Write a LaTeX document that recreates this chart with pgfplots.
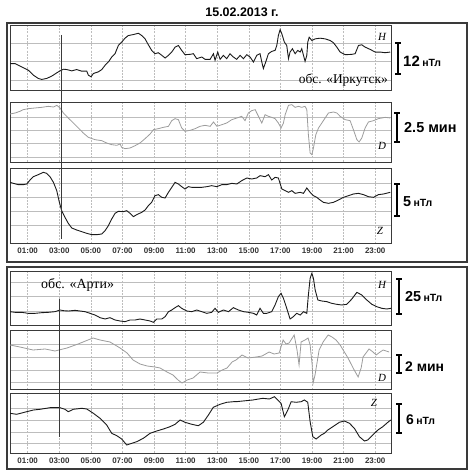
\documentclass[border=0pt]{standalone}
\usepackage{fontspec}
\setmainfont{Liberation Sans}
\newfontfamily\obsfont{Liberation Serif}
\usepackage{pgfplots}
\usepackage{pgfplotstable}
\pgfplotsset{compat=1.18}

\definecolor{framegray}{HTML}{3A3A3A}
\definecolor{gridgray}{HTML}{BDBDBD}
\definecolor{dgray}{HTML}{9C9C9C}
\definecolor{curveblack}{HTML}{1A1A1A}

% Irkutsk: H component (time in hours, relative level; larger = lower on the panel)
\pgfplotstableread{
t v
-0.12 125
0.20 125
0.62 135
1.04 145
1.36 160
1.67 170
1.89 173
2.20 170
2.52 163
2.84 153
3.05 147
3.26 142
3.47 143
3.79 147
4.10 143
4.42 148
4.74 148
4.84 160
5.01 165
5.16 155
5.47 150
5.69 143
5.90 130
6.11 120
6.32 105
6.53 95
6.74 70
6.95 60
7.16 48
7.37 40
7.69 37
8.01 33
8.22 40
8.43 50
8.64 68
8.85 85
9.06 95
9.27 92
9.49 100
9.70 108
9.91 100
10.12 90
10.33 75
10.54 70
10.75 85
10.96 98
11.28 97
11.49 95
11.70 110
12.02 105
12.23 112
12.55 112
12.76 95
12.86 115
13.03 90
13.18 112
13.39 100
13.60 110
13.81 95
14.02 105
14.23 112
14.45 100
14.66 110
14.87 98
15.08 105
15.29 120
15.50 100
15.71 95
15.82 120
15.92 140
16.07 120
16.24 95
16.45 88
16.66 85
16.77 70
16.87 40
16.98 22
17.09 35
17.25 60
17.40 70
17.51 110
17.61 90
17.76 80
17.93 95
18.10 85
18.25 90
18.35 80
18.46 100
18.56 118
18.67 100
18.73 60
18.82 45
18.99 55
19.20 50
19.51 48
19.83 50
20.15 55
20.36 62
20.57 75
20.78 90
21.10 98
21.52 97
21.73 95
21.94 70
22.15 68
22.36 75
22.68 82
23.00 90
23.31 90
23.63 92
23.95 90
}\irkH

% Irkutsk: D component
\pgfplotstableread{
t v
-0.12 48
0.20 45
0.51 40
0.72 35
1.04 32
1.46 30
1.89 28
2.31 25
2.63 27
2.84 22
3.05 30
3.26 45
3.57 60
3.89 75
4.21 90
4.52 105
4.84 118
5.26 125
5.69 128
6.00 135
6.32 140
6.64 142
6.85 138
6.95 148
7.16 152
7.48 150
7.80 143
8.11 135
8.43 122
8.75 108
8.96 95
9.27 92
9.59 88
9.91 85
10.12 68
10.33 62
10.54 65
10.75 90
10.96 100
11.28 97
11.60 92
11.91 85
12.23 82
12.55 85
12.76 72
12.98 85
13.29 80
13.60 75
13.92 65
14.24 60
14.55 55
14.76 68
14.97 45
15.18 38
15.40 35
15.61 55
15.82 75
16.03 50
16.24 55
16.45 58
16.66 62
16.87 75
17.04 90
17.19 75
17.30 50
17.51 22
17.72 20
17.93 28
18.14 25
18.35 28
18.56 25
18.67 35
18.77 110
18.88 165
18.99 170
19.09 150
19.24 110
19.41 90
19.62 75
19.83 60
20.04 45
20.36 42
20.57 45
20.78 55
21.10 65
21.41 68
21.62 95
21.84 125
21.98 132
22.15 120
22.36 90
22.57 72
22.89 68
23.20 62
23.63 58
23.95 60
}\irkD

% Irkutsk: Z component
\pgfplotstableread{
t v
-0.12 55
0.09 58
0.41 62
0.72 62
0.94 60
1.15 48
1.36 38
1.67 32
1.99 25
2.20 28
2.41 38
2.63 55
2.84 80
2.98 110
3.15 140
3.36 160
3.57 178
3.79 192
4.10 198
4.42 203
4.74 208
5.05 212
5.37 212
5.69 210
5.90 200
6.11 185
6.32 165
6.53 148
6.74 142
7.06 143
7.27 140
7.48 148
7.69 158
7.90 152
8.22 145
8.43 138
8.64 125
8.85 115
9.06 95
9.27 92
9.49 100
9.70 102
9.91 85
10.12 70
10.33 55
10.54 60
10.75 68
10.96 75
11.17 68
11.39 70
11.70 70
12.02 70
12.34 68
12.65 65
12.97 68
13.29 62
13.60 62
13.92 58
14.24 60
14.55 50
14.87 42
15.18 45
15.50 42
15.71 35
16.03 38
16.24 32
16.45 48
16.66 40
16.87 42
17.09 75
17.30 80
17.51 85
17.72 80
17.93 88
18.25 85
18.46 88
18.67 72
18.88 85
19.09 95
19.30 100
19.51 108
19.72 115
20.04 118
20.36 115
20.67 108
20.99 100
21.31 95
21.62 90
21.94 88
22.26 92
22.57 98
22.89 100
23.20 92
23.52 90
23.95 85
}\irkZ

% Arti: H component
\pgfplotstableread{
t v
-0.12 150
0.20 152
0.62 152
1.04 155
1.46 155
1.89 153
2.31 152
2.73 150
3.05 145
3.26 147
3.57 148
4.00 146
4.31 148
4.63 150
4.95 155
5.26 160
5.58 168
5.90 172
6.21 168
6.53 175
6.85 178
7.16 180
7.48 175
7.80 175
8.11 172
8.43 175
8.75 178
8.96 182
9.17 172
9.49 172
9.70 165
9.91 150
10.12 145
10.33 138
10.54 132
10.75 140
11.07 148
11.39 150
11.70 145
12.02 150
12.34 155
12.65 152
12.86 140
13.07 152
13.39 145
13.71 150
14.02 138
14.34 145
14.66 150
14.97 152
15.29 155
15.50 160
15.71 140
15.92 155
16.13 155
16.45 150
16.66 130
16.87 105
17.04 95
17.19 110
17.40 140
17.61 172
17.82 165
18.03 155
18.25 160
18.46 150
18.67 155
18.77 100
18.88 50
18.99 35
19.09 50
19.20 85
19.37 115
19.62 118
19.94 120
20.25 125
20.57 128
20.89 130
21.20 128
21.52 112
21.84 92
22.15 100
22.47 115
22.79 128
23.10 135
23.42 140
23.74 142
24.00 140
}\artH

% Arti: D component
\pgfplotstableread{
t v
-0.12 345
0.51 347
1.34 350
2.10 349
2.73 351
3.49 348
4.19 344
4.82 340
5.14 338
5.58 340
6.21 342
6.85 348
7.29 353
7.67 360
8.11 364
8.56 366
9.06 367
9.38 368
9.82 372
10.20 375
10.52 380
10.77 383
11.09 380
11.47 378
11.91 372
12.42 373
12.99 373
13.31 370
13.62 368
13.94 362
14.19 360
14.57 355
14.95 358
15.46 357
15.84 356
16.28 352
16.60 354
16.92 353
17.17 340
17.36 344
17.55 343
17.87 335
18.05 350
18.18 365
18.31 342
18.56 340
18.75 338
18.88 345
19.01 365
19.07 383
19.19 375
19.45 350
19.70 342
20.02 335
20.27 337
20.52 340
20.78 345
20.97 350
21.28 358
21.60 368
21.92 377
22.11 368
22.23 357
22.61 349
22.86 352
23.06 355
23.31 352
23.50 350
23.88 352
}\artD

% Arti: Z component
\pgfplotstableread{
t v
-0.12 413.3
0.30 414.3
0.94 411.7
1.36 410
1.78 409.3
2.41 407.7
3.05 407.7
3.36 409.3
3.57 411.7
3.89 409.3
4.42 408.3
4.74 409
5.16 413.3
5.58 418.3
6.00 425
6.32 433.3
6.64 435.7
6.95 439
7.27 445
7.59 443.3
7.90 441.7
8.32 438.3
8.75 433.3
9.17 431
9.59 429
10.01 426.7
10.33 424.3
10.65 420
10.96 422.3
11.39 424.3
11.80 425.7
12.12 422.3
12.44 415
12.75 407.3
13.18 404.3
13.60 402.3
14.02 401.7
14.19 401.7
14.62 401
15.25 400
15.88 398.3
16.30 399
16.62 396.7
16.83 400
17.04 403.3
17.25 416.7
17.47 410
17.68 401.7
17.99 402.3
18.31 401.7
18.52 400
18.73 402.3
18.88 421.7
19.05 436.7
19.26 439
19.58 435
19.78 433.3
20.00 430
20.32 426.7
20.73 422.3
21.05 421
21.37 423.3
21.68 428.3
22.00 436.7
22.32 441
22.53 440
22.85 435
23.17 430
23.48 426.7
23.80 422.3
23.90 421
24.00 420
}\artZ

\pgfplotsset{
  magpanel/.style={
    scale only axis, width=381bp,
    xmin=-0.12, xmax=24,
    y dir=reverse,
    axis line style={framegray, line width=0.9bp},
    xtick={1,3,...,23},
    xticklabels={},
    yticklabels={},
    major tick length=0pt,
    xmajorgrids, ymajorgrids,
    x grid style={gridgray, line width=0.45bp, dash pattern=on 2bp off 1.2bp},
    y grid style={gridgray, line width=0.45bp},
  },
  hourlabels/.style={
    xticklabels={01:00,03:00,05:00,07:00,09:00,11:00,13:00,15:00,17:00,19:00,21:00,23:00},
    xticklabel style={font=\fontsize{8}{8}\selectfont\bfseries, text=black!80, anchor=center, yshift=-8bp},
  },
  hcurve/.style={curveblack, line width=0.9bp, no marks},
  dcurve/.style={dgray, line width=0.8bp, no marks},
}

\newcommand{\scalebar}[3]{%
  \draw[black, line width=1.1bp] (#1bp,#2bp) -- (#1bp,#3bp)
    ({#1bp-3bp},#2bp) -- ({#1bp+3bp},#2bp)
    ({#1bp-3bp},#3bp) -- ({#1bp+3bp},#3bp);}
\newcommand{\comp}[3]{\node[inner sep=0] at (#1bp,#2bp) {\obsfont\itshape\fontsize{11}{11}\selectfont #3};}

\begin{document}
\begin{tikzpicture}
\path[use as bounding box] (0,0) rectangle (472bp,476bp);

% outer frames
\draw[framegray, line width=1.3bp] (7bp,214bp) rectangle (467bp,453bp);
\draw[framegray, line width=1.3bp] (7bp,7bp) rectangle (467bp,209bp);

\node[inner sep=0] at (242bp,464bp) {\fontsize{12.5}{12.5}\selectfont\bfseries 15.02.2013 г.};

% ---- Irkutsk ----
\begin{axis}[magpanel, at={(10bp,451bp)}, anchor=north west, height=65bp,
  ymin=8, ymax=205, ytick={62,118,174}]
  \addplot[hcurve] table[x=t, y=v] {\irkH};
  \coordinate (irkA) at (axis cs:3.15,38);
\end{axis}
\begin{axis}[magpanel, at={(10bp,374bp)}, anchor=north west, height=60bp,
  ymin=12, ymax=192, ytick={57,98,137,178}]
  \addplot[dcurve] table[x=t, y=v] {\irkD};
\end{axis}
\begin{axis}[magpanel, hourlabels, at={(10bp,308bp)}, anchor=north west, height=75bp,
  ymin=12, ymax=237, ytick={57,100,143,185}]
  \addplot[hcurve] table[x=t, y=v] {\irkZ};
  \coordinate (irkB) at (axis cs:3.15,225);
\end{axis}
\draw[framegray, line width=0.8bp] (irkA) -- (irkB);

\node[anchor=east, inner sep=0] at (388bp,396bp) {\obsfont\fontsize{13.5}{13.5}\selectfont обс. «Иркутск»};
\comp{382}{439}{H}
\comp{382}{330}{D}
\comp{380}{245}{Z}

\scalebar{398}{433}{402}
\node[anchor=west, inner sep=0] at (403bp,415bp) {\bfseries\fontsize{15}{15}\selectfont 12\,\fontsize{10.5}{10.5}\selectfont нТл};
\scalebar{397}{363}{334}
\node[anchor=west, inner sep=0] at (404bp,348bp) {\bfseries\fontsize{14.5}{14.5}\selectfont 2.5 мин};
\scalebar{397}{292}{260}
\node[anchor=west, inner sep=0] at (403bp,274bp) {\bfseries\fontsize{14.5}{14.5}\selectfont 5\,\fontsize{10.5}{10.5}\selectfont нТл};

% ---- Arti ----
\begin{axis}[magpanel, at={(10bp,205bp)}, anchor=north west, height=54bp,
  ymin=28, ymax=190, ytick={62,105,148}]
  \addplot[hcurve] table[x=t, y=v] {\artH};
  \coordinate (artA) at (axis cs:3.0,111);
\end{axis}
\begin{axis}[magpanel, at={(10bp,146bp)}, anchor=north west, height=59bp,
  ymin=330, ymax=389, ytick={344,357,370,382}]
  \addplot[dcurve] table[x=t, y=v] {\artD};
\end{axis}
\begin{axis}[magpanel, hourlabels, at={(10bp,83bp)}, anchor=north west, height=60bp,
  ymin=393, ymax=453, ytick={408,420,432,443}]
  \addplot[hcurve] table[x=t, y=v] {\artZ};
  \coordinate (artB) at (axis cs:3.0,437);
\end{axis}
\draw[framegray, line width=0.8bp] (artA) -- (artB);

\node[anchor=west, inner sep=0] at (41bp,191bp) {\obsfont\fontsize{14}{14}\selectfont обс. «Арти»};
\comp{382}{191}{H}
\comp{382}{98}{D}
\comp{374}{73}{Z}

\scalebar{399}{197}{162}
\node[anchor=west, inner sep=0] at (405bp,179bp) {\bfseries\fontsize{14.5}{14.5}\selectfont 25\,\fontsize{10.5}{10.5}\selectfont нТл};
\scalebar{399}{121}{103}
\node[anchor=west, inner sep=0] at (405bp,109bp) {\bfseries\fontsize{14}{14}\selectfont 2 мин};
\scalebar{399}{72}{43}
\node[anchor=west, inner sep=0] at (406bp,56bp) {\bfseries\fontsize{14}{14}\selectfont 6\,\fontsize{10.5}{10.5}\selectfont нТл};
\end{tikzpicture}
\end{document}
